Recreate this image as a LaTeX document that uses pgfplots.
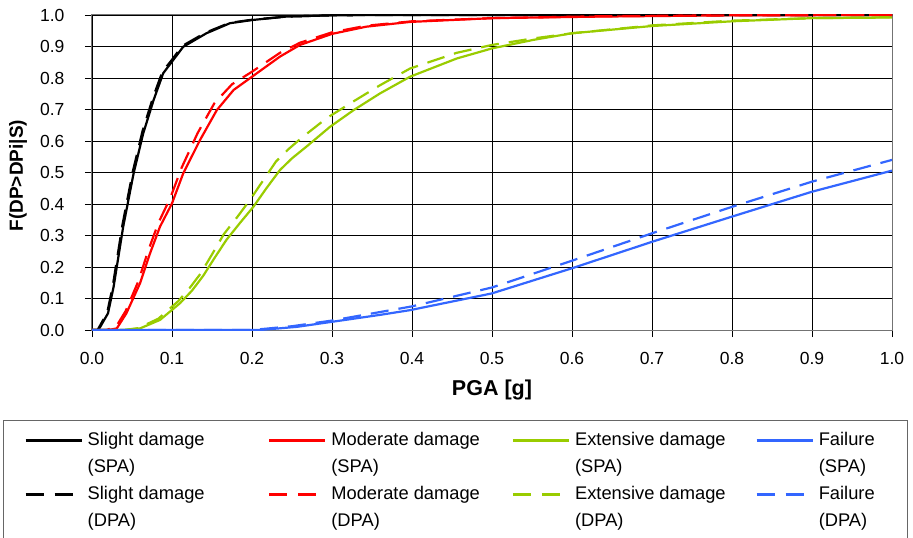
\documentclass[border=0pt]{standalone}
\usepackage{pgfplots}
\pgfplotsset{compat=1.18}
\usepackage{fontspec}
\setmainfont{Liberation Sans}
\definecolor{cgreen}{RGB}{153,204,0}
\definecolor{cblue}{RGB}{51,102,255}
\definecolor{cred}{RGB}{255,0,0}
\newcommand{\legtxt}[2][168pt]{\parbox[t]{#1}{\rule[-4pt]{0pt}{17.5pt}#2}}
\begin{document}
\begin{tikzpicture}
\useasboundingbox (-92pt,-208pt) rectangle (821pt,330pt);
\begin{axis}[
  at={(0pt,0pt)}, anchor=south west,
  scale only axis, width=800pt, height=315pt,
  xmin=0, xmax=1, ymin=0, ymax=1,
  xtick={0,0.1,...,1.0}, ytick={0,0.1,...,1.0},
  xticklabels={0.0,0.1,0.2,0.3,0.4,0.5,0.6,0.7,0.8,0.9,1.0},
  yticklabels={0.0,0.1,0.2,0.3,0.4,0.5,0.6,0.7,0.8,0.9,1.0},
  tick align=outside, major tick length=7pt,
  tick style={black, line width=0.8pt},
  xtick pos=bottom, ytick pos=left,
  grid=major, grid style={black, line width=0.8pt},
  axis line style={black!55, line width=1pt},
  ticklabel style={font=\fontsize{17.5}{20}\selectfont},
  xticklabel style={yshift=-12pt},
  yticklabel style={xshift=-17pt},
  /pgf/number format/assume math mode=true,
  xlabel={PGA [g]}, ylabel={F(DP>DPi|S)},
  xlabel style={font=\fontsize{21.5}{24}\selectfont\bfseries, at={(axis description cs:0.5,-0.19)}, anchor=center},
  ylabel style={font=\fontsize{19}{22}\selectfont\bfseries, at={(axis description cs:-0.0925,0.49)}, anchor=center},
  legend columns=4,
  legend cell align=left,
  legend image code/.code={\draw[#1] (0pt,5pt) -- (56pt,5pt);},
  legend style={at={(axis description cs:-0.11125,-0.2857)}, anchor=north west,
    draw=black!60, line width=1pt, inner xsep=21pt, inner ysep=11.5pt,
    font=\fontsize{18.3}{22}\selectfont,
    nodes={inner sep=0pt, anchor=base west},
    row sep=12pt,
    /tikz/every odd column/.append style={column sep=5pt},
    /tikz/every even column/.append style={column sep=12.5pt}},
  every axis plot/.append style={line width=2.2pt, forget plot},
]
% Slight damage (SPA)
\addplot[black] coordinates {(0,0) (0.008,0) (0.02,0.053) (0.027,0.137) (0.039,0.328) (0.052,0.497) (0.064,0.624) (0.077,0.73) (0.089,0.815) (0.1,0.852) (0.114,0.899) (0.143,0.942) (0.1725,0.974) (0.2,0.984) (0.243,0.995) (0.3,0.999) (0.35,1) (1,1)};
% Moderate damage (SPA)
\addplot[cred] coordinates {(0,0) (0.02,0) (0.031,0.005) (0.043,0.053) (0.06,0.148) (0.0725,0.243) (0.085,0.328) (0.1,0.402) (0.114,0.497) (0.135,0.603) (0.156,0.698) (0.177,0.762) (0.2,0.804) (0.235,0.868) (0.26,0.905) (0.3,0.94) (0.343,0.963) (0.3975,0.978) (0.5,0.99) (0.635,0.995) (0.8,0.999) (1,1)};
% Extensive damage (SPA)
\addplot[cgreen] coordinates {(0,0) (0.04,0) (0.06,0.005) (0.085,0.032) (0.11,0.085) (0.125,0.125) (0.139,0.172) (0.153,0.228) (0.168,0.286) (0.185,0.34) (0.2017,0.391) (0.218,0.45) (0.235,0.508) (0.25,0.545) (0.268,0.582) (0.2975,0.645) (0.327,0.698) (0.36,0.751) (0.3975,0.804) (0.456,0.862) (0.5,0.894) (0.5517,0.921) (0.6,0.942) (0.7,0.965) (0.8,0.98) (0.9,0.99) (1,0.992)};
% Failure (SPA)
\addplot[cblue] coordinates {(0,0) (0.21,0) (0.256,0.01) (0.3,0.026) (0.36,0.048) (0.3975,0.063) (0.4996,0.116) (0.6,0.196) (0.7,0.28) (0.8,0.36) (0.9,0.439) (1,0.506)};
% Slight damage (DPA)
\addplot[black, dash pattern=on 18pt off 10pt] coordinates {(0,0) (0.007,0) (0.019,0.055) (0.026,0.14) (0.038,0.333) (0.051,0.503) (0.063,0.63) (0.076,0.736) (0.088,0.82) (0.1,0.858) (0.113,0.902) (0.142,0.944) (0.172,0.975) (0.2,0.985) (0.243,0.995) (0.3,0.999) (0.35,1) (1,1)};
% Moderate damage (DPA)
\addplot[cred, dash pattern=on 18pt off 10pt] coordinates {(0,0) (0.018,0) (0.03,0.01) (0.042,0.06) (0.058,0.155) (0.07,0.25) (0.083,0.34) (0.098,0.42) (0.112,0.515) (0.132,0.625) (0.153,0.72) (0.175,0.78) (0.2,0.82) (0.235,0.88) (0.26,0.912) (0.3,0.945) (0.343,0.966) (0.4,0.98) (0.5,0.99) (0.635,0.996) (0.8,0.999) (1,1)};
% Extensive damage (DPA)
\addplot[cgreen, dash pattern=on 18pt off 10pt] coordinates {(0,0) (0.04,0) (0.058,0.006) (0.083,0.036) (0.108,0.092) (0.122,0.133) (0.136,0.18) (0.15,0.24) (0.165,0.305) (0.182,0.36) (0.198,0.415) (0.214,0.475) (0.23,0.535) (0.246,0.575) (0.262,0.61) (0.293,0.672) (0.327,0.726) (0.36,0.777) (0.3975,0.83) (0.456,0.88) (0.5,0.905) (0.55,0.925) (0.6,0.942) (0.7,0.967) (0.8,0.982) (0.9,0.99) (1,0.993)};
% Failure (DPA)
\addplot[cblue, dash pattern=on 18pt off 10pt] coordinates {(0,0) (0.2,0) (0.25,0.012) (0.3,0.03) (0.4,0.075) (0.5,0.135) (0.6,0.22) (0.7,0.307) (0.8,0.391) (0.9,0.471) (1,0.54)};
% legend
\addlegendimage{black, line width=2.2pt}\addlegendentry{\legtxt{Slight damage}}
\addlegendimage{cred, line width=2.2pt}\addlegendentry{\legtxt{Moderate damage}}
\addlegendimage{cgreen, line width=2.2pt}\addlegendentry{\legtxt{Extensive damage}}
\addlegendimage{cblue, line width=2.2pt}\addlegendentry{\legtxt[68pt]{Failure}}
\addlegendimage{empty legend}\addlegendentry{\legtxt{(SPA)}}
\addlegendimage{empty legend}\addlegendentry{\legtxt{(SPA)}}
\addlegendimage{empty legend}\addlegendentry{\legtxt{(SPA)}}
\addlegendimage{empty legend}\addlegendentry{\legtxt[68pt]{(SPA)}}
\addlegendimage{black, line width=2.2pt, dash pattern=on 18pt off 11pt}\addlegendentry{\legtxt{Slight damage}}
\addlegendimage{cred, line width=2.2pt, dash pattern=on 18pt off 11pt}\addlegendentry{\legtxt{Moderate damage}}
\addlegendimage{cgreen, line width=2.2pt, dash pattern=on 18pt off 11pt}\addlegendentry{\legtxt{Extensive damage}}
\addlegendimage{cblue, line width=2.2pt, dash pattern=on 18pt off 11pt}\addlegendentry{\legtxt[68pt]{Failure}}
\addlegendimage{empty legend}\addlegendentry{\legtxt{(DPA)}}
\addlegendimage{empty legend}\addlegendentry{\legtxt{(DPA)}}
\addlegendimage{empty legend}\addlegendentry{\legtxt{(DPA)}}
\addlegendimage{empty legend}\addlegendentry{\legtxt[68pt]{(DPA)}}
\end{axis}
\end{tikzpicture}
\end{document}
